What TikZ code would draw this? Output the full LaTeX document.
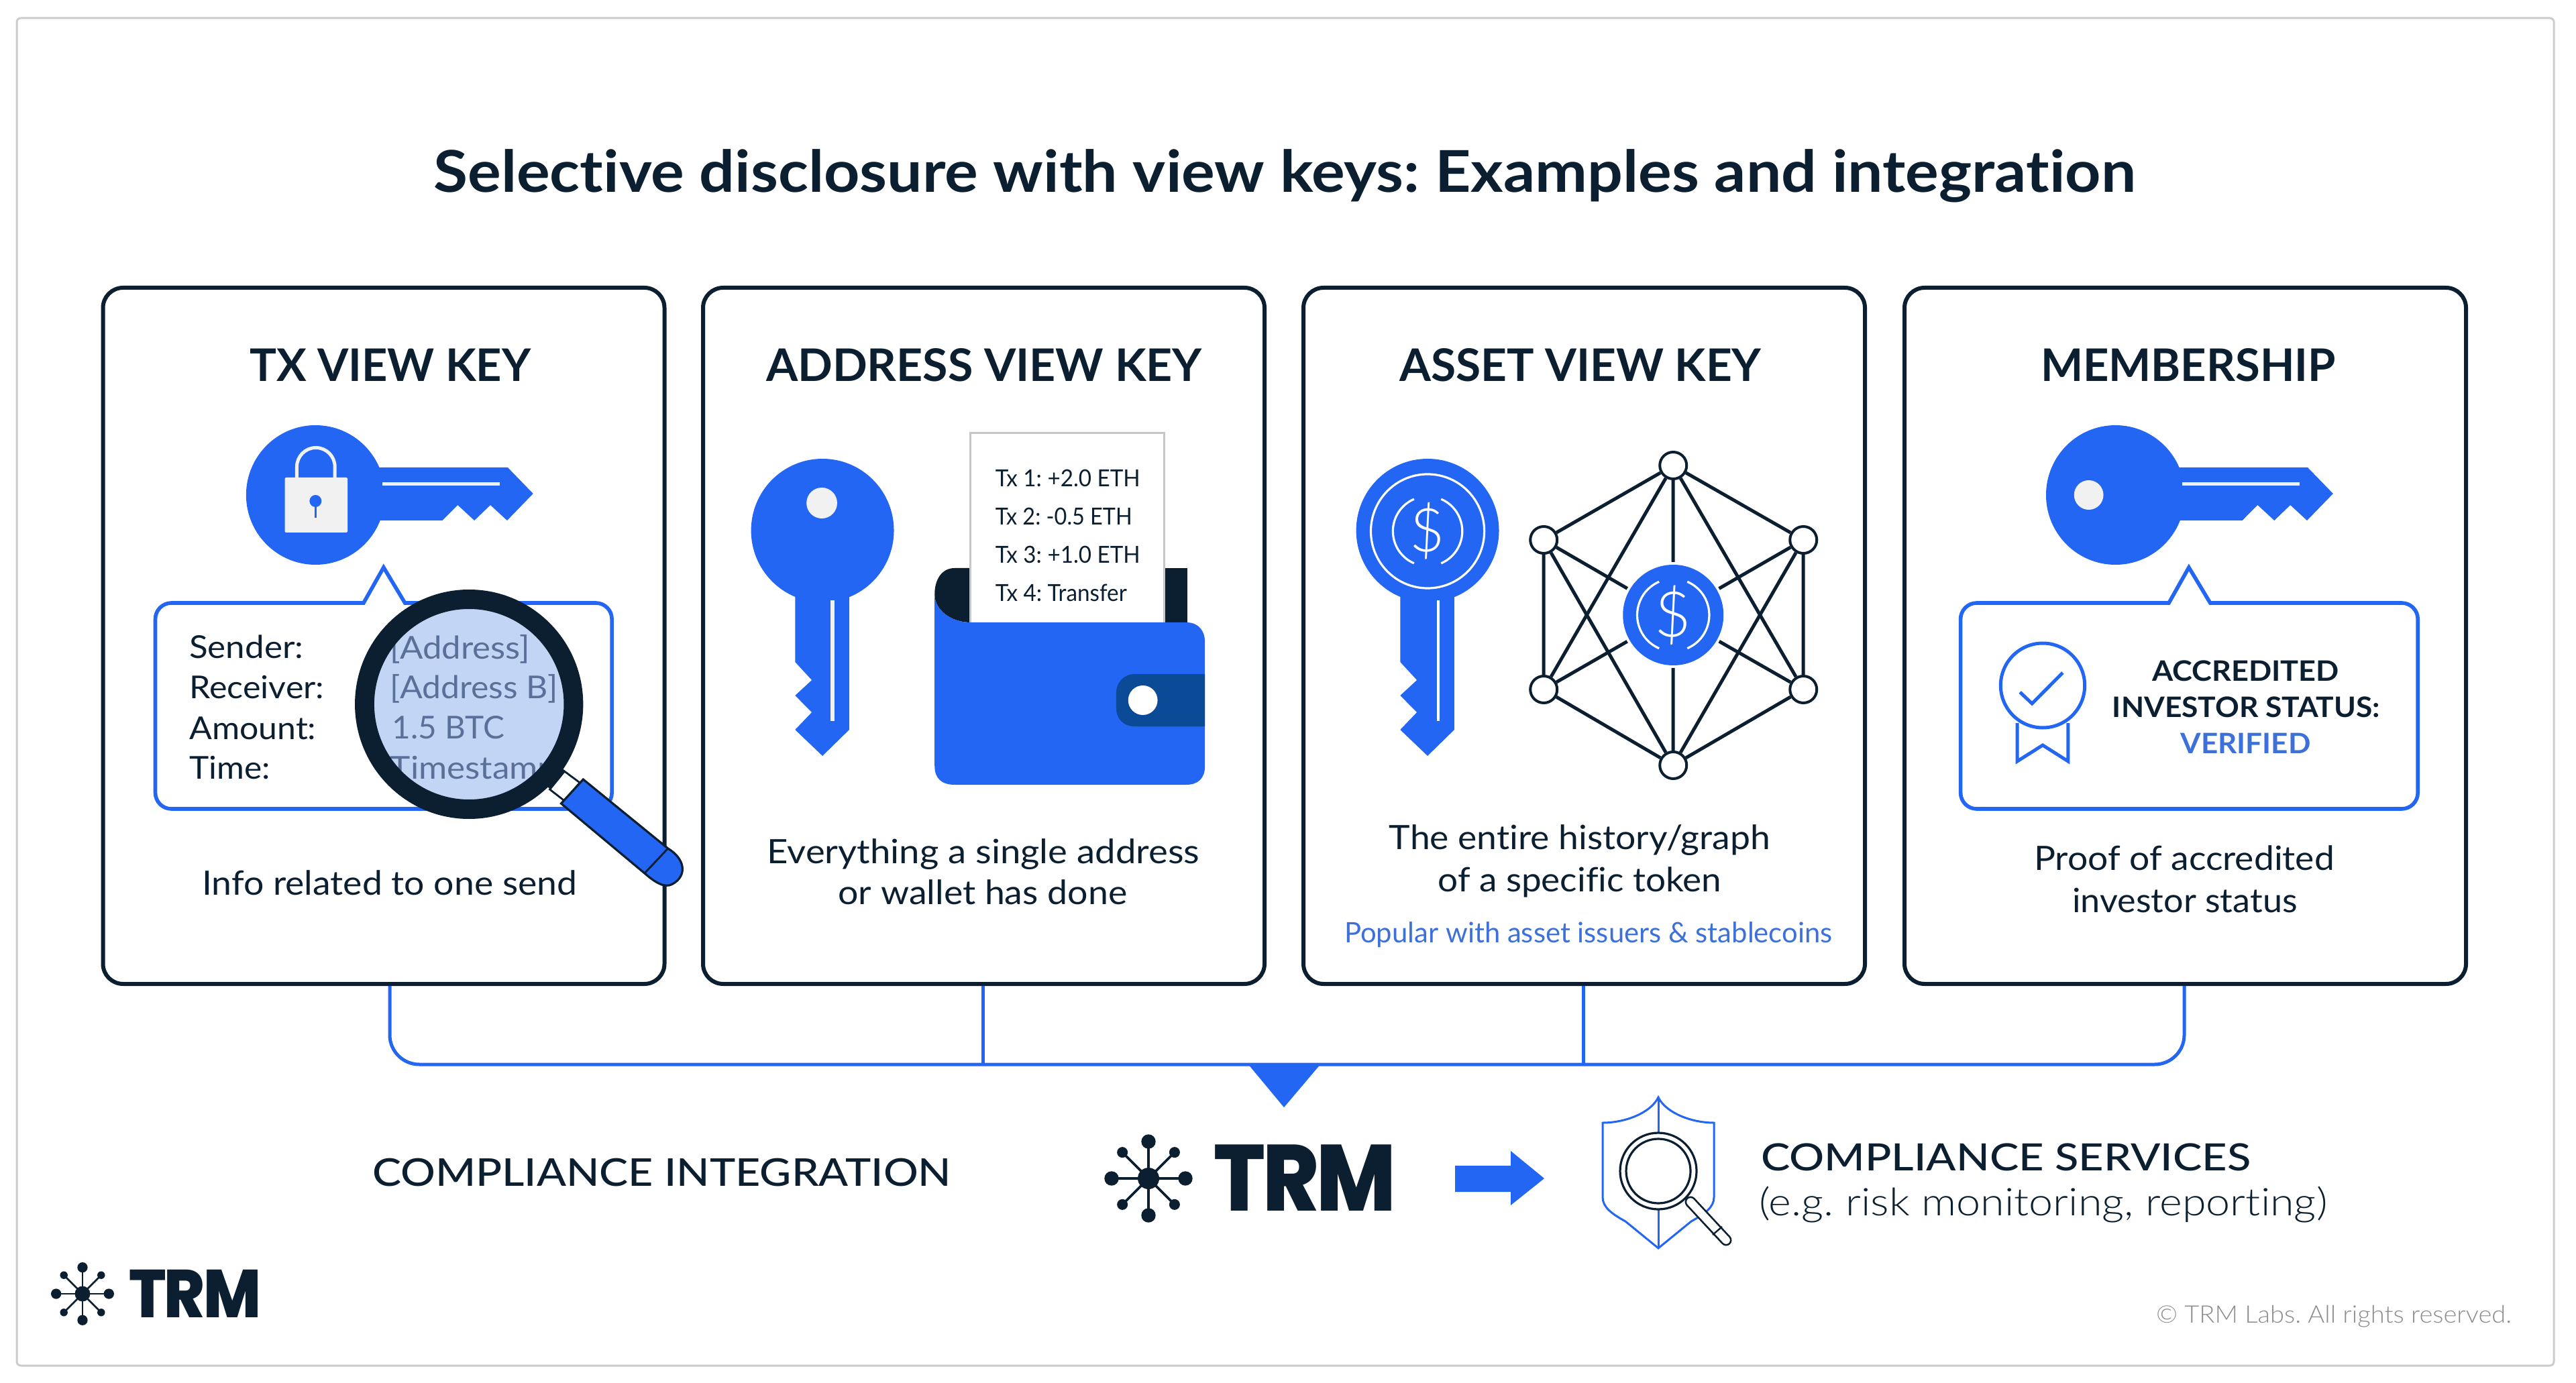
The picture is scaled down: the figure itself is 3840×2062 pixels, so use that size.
\documentclass[tikz,border=0pt]{standalone}
\usepackage{graphicx}
\usepackage{fontspec}
\defaultfontfeatures{Ligatures={TeX,NoCommon}}
\setmainfont{Lato}
\newfontfamily\lightf{Lato Light}
\newfontfamily\medf{Lato Medium}
\newfontfamily\semif{Lato Bold}
\newfontfamily\logof{Poppins ExtraBold}[LetterSpace=-3]
\definecolor{ink}{HTML}{0B1F30}
\definecolor{keyblue}{HTML}{2366F4}
\definecolor{softblue}{HTML}{3E70DA}
\definecolor{tabblue}{HTML}{0A4A96}
\definecolor{lensblue}{HTML}{C3D5F5}
\definecolor{lenstext}{HTML}{5A7099}
\definecolor{offwhite}{HTML}{F1F1F1}
\newlength\pxu \setlength\pxu{0.25pt}
\newsavebox\fitbox
\def\fitnum{1000}
% font, width in px, size in px, text
\newcommand\fitx[4]{\sbox\fitbox{#1\fontsize{\the\dimexpr#3\pxu\relax}{\the\dimexpr#3\pxu\relax}\selectfont #4}\resizebox{\dimexpr#2\pxu*\fitnum/1000\relax}{\ht\fitbox}{\usebox\fitbox}}
\tikzset{
  txt/.style={inner sep=0pt,outer sep=0pt,anchor=base,text=ink},
  txtw/.style={txt,anchor=base west},
  card/.style={draw=ink,fill=white,line width=1.5pt,rounded corners=7.5pt,minimum width=209.25pt,minimum height=259.5pt,inner sep=0pt,outer sep=.75pt},
  bus/.style={draw=keyblue,line width=1.25pt},
  callout/.style={draw=keyblue,fill=white,line width=1.4pt,line join=miter},
  netnode/.style={circle,draw=ink,fill=white,line width=1pt,minimum size=10pt,inner sep=0pt,outer sep=.5pt},
  nethub/.style={circle,fill=keyblue,minimum size=37.5pt,inner sep=0pt,outer sep=1pt},
  netedge/.style={draw=ink,line width=1.25pt},
  cardzone/.style={shift={(#1,0)},xscale=.995,shift={(-#1,0)}},
}
\newcommand\hkey{%
  \fill[keyblue] (472,738) circle[radius=104];
  \fill[keyblue] (560,697)--(760,697)--(798,736)--(759,776)--(734,753)--(710,776)--(685,753)--(662,776)--(560,776)--cycle;
  \fill[offwhite] (572,719.5) rectangle (748,724.5);
}
\newcommand\vkey{%
  \fill[keyblue] (1227,791) circle[radius=107];
  \fill[keyblue] (1186,880)--(1186,987)--(1211,1014)--(1186,1037)--(1211,1062)--(1186,1088)--(1227,1127)--(1267,1088)--(1267,880)--cycle;
}
% name, x, y, arc radius, font px
\newcommand\dollarmark[5]{%
  \begin{scope}[shift={(#2,#3)}]
    \draw[white,line width=.8pt] (113:#4) arc[start angle=113,end angle=247,radius=#4];
    \draw[white,line width=.8pt] (-67:#4) arc[start angle=-67,end angle=67,radius=#4];
    \node[inner sep=0pt,text=white] (#1) at (0,0) {\lightf\fontsize{\the\dimexpr#5\pxu\relax}{\the\dimexpr#5\pxu\relax}\selectfont\$};
  \end{scope}
}
% x, y, scale, line width
\newcommand\trmicon[4]{%
  \begin{scope}[shift={(#1,#2)},scale=#3]
    \foreach \a in {0,90,180,270}{
      \draw[ink,line width=#4] (0,0)--(\a:55);
      \fill[ink] (\a:55) circle[radius=10.7];
    }
    \foreach \a in {45,135,225,315}{
      \draw[ink,line width=#4] (0,0)--(\a:55);
      \fill[ink] (\a:55) circle[radius=8];
    }
    \fill[ink] (0,0) circle[radius=16];
  \end{scope}
}
\begin{document}
\frenchspacing
\begin{tikzpicture}[x=0.25pt,y=-0.25pt]
\useasboundingbox (0,0) rectangle (3840,2062);
\fill[white] (0,0) rectangle (3840,2062);
\draw[black!20,line width=.75pt,rounded corners=1.5pt] (25,27) rectangle (3807,2036);

\node[txt] (title) at (1915,287) {\fitx{\semif}{2537}{86}{Selective disclosure with view keys: Examples and integration}};

% cards
\node[card] (c1) at (572,948) {};
\node[card] (c2) at (1466.5,948) {};
\node[card] (c3) at (2361.5,948) {};
\node[card] (c4) at (3257.5,948) {};

% connectors
\coordinate (j1) at (581,1587);
\coordinate (j2) at (1465,1587);
\coordinate (j3) at (2360,1587);
\coordinate (j4) at (3256,1587);
\draw[bus] (j1 |- c1.south) [rounded corners=11pt] -- (j1) -- (j4) -- (j4 |- c4.south);
\draw[bus] (j2 |- c2.south) -- (j2);
\draw[bus] (j3 |- c3.south) -- (j3);
\fill[keyblue] (1860,1586)--(1969,1586)--(1914,1651)--cycle;

% card 1
\begin{scope}[cardzone=140]
\def\fitnum{995}
\node[txt] (t1) at (584,569) {\fitx{\semif}{421}{67}{TX VIEW KEY}};
\hkey
\fill[offwhite,rounded corners=.5pt] (426,712) rectangle (520,794);
\draw[offwhite,line width=1.25pt] (444,714) -- (444,696) arc[start angle=180,end angle=360,radius=28.5] -- (501,714);
\fill[keyblue] (472,747) circle[radius=9];
\draw[keyblue,line width=.75pt] (472,747)--(472,772);
\draw[callout] (640,899) [rounded corners=6pt] -- (916,899) -- (916,1206) -- (232,1206) -- (232,899) -- (500,899) [sharp corners] -- (544,899) -- (574,846) -- (606,899) -- cycle;
\node[txtw] (l1) at (283,982) {\fitx{\rmfamily}{171}{47}{Sender:}};
\node[txtw] (l2) at (283,1041) {\fitx{\rmfamily}{202}{47}{Receiver:}};
\node[txtw] (l3) at (283,1102) {\fitx{\rmfamily}{190}{47}{Amount:}};
\node[txtw] (l4) at (283,1161) {\fitx{\rmfamily}{121}{47}{Time:}};
\fill[lensblue] (702,1050) circle[radius=144];
\node[txtw,text=lenstext] (v1) at (584,982) {\fitx{\rmfamily}{209}{47}{[Address]}};
\node[txtw,text=lenstext] (v2) at (584,1041) {\fitx{\rmfamily}{251}{47}{[Address B]}};
\node[txtw,text=lenstext] (v3) at (587,1102) {\fitx{\rmfamily}{168}{47}{1.5 BTC}};
\node[txtw,text=lenstext] (v4) at (584,1161) {\fitx{\rmfamily}{250}{47}{Timestamp}};
\fill[ink,even odd rule] (702,1050) circle[radius=171] circle[radius=142];
\fill[ink] (838,1142)--(852,1155)--(830,1182)--(816,1170)--cycle;
\draw[ink,fill=white,line width=.7pt] (845,1150)--(868,1167)--(845,1194)--(823,1177)--cycle;
\draw[ink,fill=keyblue,line width=.8pt] (873,1162)--(1000,1265) .. controls (1025,1280) and (1030,1305) .. (1007,1318) .. controls (995,1325) and (980,1315) .. (965,1302) -- (840,1198) -- cycle;
\draw[ink,line width=.7pt] (1000,1265)--(965,1302);
\node[txt] (d1) at (583,1334) {\fitx{\rmfamily}{562}{50}{Info related to one send}};
\end{scope}

% card 2
\begin{scope}[cardzone=1040]
\def\fitnum{995}
\node[txt] (t2) at (1469,569) {\fitx{\semif}{653}{67}{ADDRESS VIEW KEY}};
\vkey
\fill[offwhite] (1226,750) circle[radius=23];
\fill[offwhite] (1239,895) rectangle (1245,1075);
\fill[ink] (1449,928) -- (1449,847) -- (1425,847) .. controls (1405,847) and (1395,865) .. (1395,886) .. controls (1395,910) and (1420,928) .. (1449,928) -- cycle;
\fill[ink] (1739,847) rectangle (1774,928);
\draw[black!22,fill=white,line width=.75pt] (1449,928) -- (1449,646) -- (1739,646) -- (1739,928);
\fill[keyblue] (1395,886) .. controls (1395,910) and (1420,928) .. (1449,928) -- (1772,928) .. controls (1790,928) and (1800,940) .. (1800,958) -- (1800,1142) .. controls (1800,1160) and (1790,1170) .. (1772,1170) -- (1425,1170) .. controls (1405,1170) and (1395,1160) .. (1395,1142) -- cycle;
\fill[tabblue] (1800,1005) -- (1695,1005) .. controls (1678,1005) and (1667,1018) .. (1667,1033) -- (1667,1055) .. controls (1667,1072) and (1678,1083) .. (1695,1083) -- (1800,1083) -- cycle;
\fill[white] (1707,1044) circle[radius=22];
\node[txtw] (x1) at (1486,726) {\fitx{\rmfamily}{217}{35}{Tx 1: +2.0 ETH}};
\node[txtw] (x2) at (1486,783) {\fitx{\rmfamily}{205}{35}{Tx 2: -0.5 ETH}};
\node[txtw] (x3) at (1486,840) {\fitx{\rmfamily}{217}{35}{Tx 3: +1.0 ETH}};
\node[txtw] (x4) at (1486,897) {\fitx{\rmfamily}{197}{35}{Tx 4: Transfer}};
\node[txt] (d2a) at (1468,1287) {\fitx{\rmfamily}{648}{50}{Everything a single address}};
\node[txt] (d2b) at (1467,1348) {\fitx{\rmfamily}{433}{50}{or wallet has done}};
\end{scope}

% card 3
\begin{scope}[cardzone=1940]
\def\fitnum{995}
\node[txt] (t3) at (2358,569) {\fitx{\semif}{542}{67}{ASSET VIEW KEY}};
\begin{scope}[shift={(902,0)}]
\vkey
\fill[white] (1241,895) rectangle (1245.5,1075);
\end{scope}
\draw[white,line width=.8pt] (2129,792) circle[radius=85];
\dollarmark{dk}{2129}{792}{52}{90}
\node[netnode] (n1) at (2497,694) {};
\node[netnode] (n2) at (2692,805) {};
\node[netnode] (n3) at (2692,1028) {};
\node[netnode] (n4) at (2497,1141) {};
\node[netnode] (n5) at (2303,1028) {};
\node[netnode] (n6) at (2303,805) {};
\node[nethub] (hub) at (2497,917) {};
\dollarmark{dh}{2497}{917}{54}{94}
\foreach \p/\q in {n1/n2,n2/n3,n3/n4,n4/n5,n5/n6,n6/n1,n1/n3,n1/n5,n4/n2,n4/n6,n1/hub,n2/hub,n3/hub,n4/hub,n5/hub,n6/hub}{
  \draw[netedge] (\p) -- (\q);
}
\node[txt] (d3a) at (2357,1266) {\fitx{\rmfamily}{571}{50}{The entire history/graph}};
\node[txt] (d3b) at (2357,1329) {\fitx{\rmfamily}{425}{50}{of a specific token}};
\node[txt,text=softblue] (d3c) at (2370,1405) {\fitx{\rmfamily}{731}{42}{Popular with asset issuers \& stablecoins}};
\end{scope}

% card 4
\begin{scope}[cardzone=2840]
\def\fitnum{995}
\node[txt] (t4) at (3264,569) {\fitx{\semif}{442}{67}{MEMBERSHIP}};
\begin{scope}[shift={(2683,0)}]
\hkey
\end{scope}
\fill[offwhite] (3115,738) circle[radius=22];
\draw[callout] (3340,899) [rounded corners=6pt] -- (3608,899) -- (3608,1206) -- (2923,1206) -- (2923,899) -- (3190,899) [sharp corners] -- (3235,899) -- (3265,846) -- (3297,899) -- cycle;
\draw[keyblue,line width=1.25pt] (3008,1078)--(3008,1135)--(3046,1111)--(3084,1135)--(3084,1078);
\draw[keyblue,line width=1.25pt,fill=white] (3046,1022) circle[radius=63];
\draw[keyblue,line width=1.25pt] (3012,1032)--(3030,1049)--(3076,1003);
\node[txt] (a1) at (3350,1016) {\fitx{\semif}{280}{42}{ACCREDITED}};
\node[txt] (a2) at (3351,1070) {\fitx{\semif}{401}{42}{INVESTOR STATUS:}};
\node[txt,text=softblue] (a3) at (3350,1123) {\fitx{\semif}{195}{42}{VERIFIED}};
\node[txt] (d4a) at (3258,1297) {\fitx{\rmfamily}{450}{50}{Proof of accredited}};
\node[txt] (d4b) at (3259,1360) {\fitx{\rmfamily}{337}{50}{investor status}};
\end{scope}

% bottom row
\node[txt] (ci) at (986.5,1768) {\fitx{\medf}{863}{57}{COMPLIANCE INTEGRATION}};
\trmicon{1712}{1757}{1}{.9pt}
\node[txtw] (trm1) at (1809,1805) {\fitx{\logof}{272}{140}{TRM}};
\fill[keyblue] (2169,1738) -- (2252,1738) -- (2252,1716) -- (2302,1757) -- (2252,1797) -- (2252,1777) -- (2169,1777) -- cycle;
\draw[keyblue,line width=.75pt,line join=miter] (2472,1636) .. controls (2461,1659) and (2423,1674) .. (2389,1674) -- (2389,1785) .. controls (2389,1800) and (2403,1810) .. (2423,1821) -- (2472,1861) -- (2521,1821) .. controls (2541,1810) and (2555,1800) .. (2555,1785) -- (2555,1674) .. controls (2521,1674) and (2483,1659) .. (2472,1636) -- cycle;
\draw[keyblue,line width=.75pt] (2472,1636) -- (2472,1861);
\draw[ink,line width=4.25pt,line cap=round] (2520,1792) -- (2573,1849);
\draw[white,line width=2.9pt,line cap=round] (2520,1792) -- (2573,1849);
\draw[ink,line width=.6pt] (2553,1841)--(2567,1829);
\draw[ink,line width=.8pt,fill=white] (2472,1746) circle[radius=57];
\draw[ink,line width=.8pt] (2472,1746) circle[radius=48];
\node[txtw] (cs1) at (2625,1745) {\fitx{\medf}{730}{56}{COMPLIANCE SERVICES}};
\node[txtw] (cs2) at (2622,1812) {\fitx{\lightf}{847}{57}{(e.g. risk monitoring, reporting)}};

% footer
\trmicon{123}{1929}{.715}{.65pt}
\node[txtw] (trm2) at (192,1964) {\fitx{\logof}{197}{101}{TRM}};
\node[txtw,text=black!45] (copy) at (3214,1972) {\fitx{\lightf}{530}{36}{\textcopyright\ TRM Labs. All rights reserved.}};
\end{tikzpicture}
\end{document}
